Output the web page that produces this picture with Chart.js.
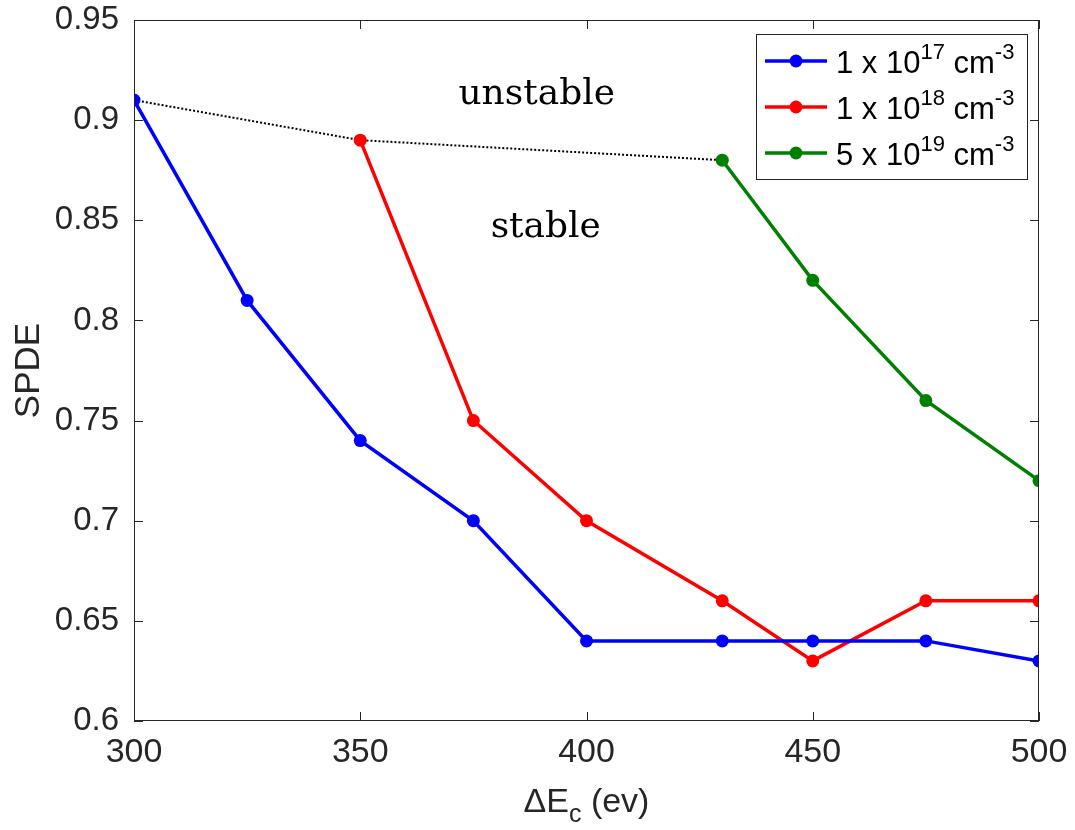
<!DOCTYPE html>
<html>
<head>
<meta charset="utf-8">
<script src="https://cdn.jsdelivr.net/npm/chart.js@4.4.0/dist/chart.umd.min.js"></script>
<style>
  html, body { margin: 0; padding: 0; background: #fff; }
  #wrap { width: 1075px; height: 830px; }
</style>
</head>
<body>
<div id="wrap"><canvas id="spdeChart" width="1075" height="830"></canvas></div>
<script>
// Data
const xTicks = [300, 350, 400, 450, 500];
const yTicks = [0.6, 0.65, 0.7, 0.75, 0.8, 0.85, 0.9, 0.95];

const xBlue = [300, 325, 350, 375, 400, 430, 450, 475, 500];
const yBlue = [0.91, 0.81, 0.74, 0.70, 0.64, 0.64, 0.64, 0.64, 0.63];

const xRed = [350, 375, 400, 430, 450, 475, 500];
const yRed = [0.89, 0.75, 0.70, 0.66, 0.63, 0.66, 0.66];

const xGreen = [430, 450, 475, 500];
const yGreen = [0.88, 0.82, 0.76, 0.72];

// stability boundary (dotted)
const xBound = [300, 350, 430];
const yBound = [0.91, 0.89, 0.88];

// legend labels: [base, exponent, unit, unit exponent]
const legendLabels = [
    ['1 x 10', '17', ' cm', '-3'],
    ['1 x 10', '18', ' cm', '-3'],
    ['5 x 10', '19', ' cm', '-3']
];

// region notes [text, x, y]
const notes = [
    ['unstable', 389, 0.9125],
    ['stable', 391, 0.8465]
];

function pts(xs, ys) {
    return xs.map((x, i) => ({ x: x, y: ys[i] }));
}

const axisColor = '#262626';
const sans = '"Liberation Sans", Arial, sans-serif';

function series(label, xs, ys, color) {
    return {
        label: label,
        data: pts(xs, ys),
        borderColor: color,
        backgroundColor: color,
        borderWidth: 3.5,
        pointRadius: 6.5,
        pointHoverRadius: 6.5,
        pointBorderWidth: 0,
        tension: 0
    };
}

// box, inward ticks, legend, axis titles, notes
const decorPlugin = {
    id: 'decor',
    afterDraw(chart) {
        const ctx = chart.ctx;
        const a = chart.chartArea;
        const xs = chart.scales.x, ys = chart.scales.y;
        ctx.save();

        // axes box
        ctx.strokeStyle = axisColor;
        ctx.lineWidth = 1;
        ctx.strokeRect(a.left + 0.5, a.top + 0.5, a.right - a.left - 1, a.bottom - a.top - 1);

        // ticks pointing inward on all sides
        const tl = 9;
        ctx.beginPath();
        xTicks.forEach(v => {
            const px = Math.round(xs.getPixelForValue(v)) + 0.5;
            ctx.moveTo(px, a.bottom); ctx.lineTo(px, a.bottom - tl);
            ctx.moveTo(px, a.top); ctx.lineTo(px, a.top + tl);
        });
        yTicks.forEach(v => {
            const py = Math.round(ys.getPixelForValue(v)) + 0.5;
            ctx.moveTo(a.left, py); ctx.lineTo(a.left + tl, py);
            ctx.moveTo(a.right, py); ctx.lineTo(a.right - tl, py);
        });
        ctx.stroke();

        // region notes
        ctx.fillStyle = '#000';
        ctx.font = '36px "DejaVu Serif", "Liberation Serif", serif';
        ctx.textAlign = 'center';
        ctx.textBaseline = 'middle';
        notes.forEach(n => {
            ctx.fillText(n[0], xs.getPixelForValue(n[1]), ys.getPixelForValue(n[2]));
        });

        // y title
        ctx.fillStyle = axisColor;
        ctx.font = '35px ' + sans;
        ctx.save();
        ctx.translate(29, (a.top + a.bottom) / 2);
        ctx.rotate(-Math.PI / 2);
        ctx.textAlign = 'center';
        ctx.textBaseline = 'middle';
        ctx.fillText('SPDE', 0, 0);
        ctx.restore();

        // x title with subscript
        ctx.textAlign = 'left';
        ctx.textBaseline = 'alphabetic';
        const big = '34px ' + sans, small = '25px ' + sans;
        ctx.font = big;
        const w1 = ctx.measureText('\u0394E').width;
        const w3 = ctx.measureText(' (ev)').width;
        ctx.font = small;
        const w2 = ctx.measureText('c').width;
        let tx = (a.left + a.right) / 2 - (w1 + w2 + w3) / 2;
        const base = 812;
        ctx.font = big; ctx.fillText('\u0394E', tx, base); tx += w1;
        ctx.font = small; ctx.fillText('c', tx, base + 10); tx += w2;
        ctx.font = big; ctx.fillText(' (ev)', tx, base);

        // legend
        const lw = 271, lh = 145;
        const lx = a.right - 12 - lw, ly = a.top + 14;
        ctx.fillStyle = '#fff';
        ctx.fillRect(lx, ly, lw, lh);
        ctx.strokeStyle = axisColor;
        ctx.lineWidth = 1;
        ctx.strokeRect(lx + 0.5, ly + 0.5, lw, lh);
        const lbig = '31px ' + sans, supFont = '22px ' + sans;
        legendLabels.forEach((parts, i) => {
            const ds = chart.data.datasets[i];
            const ry = ly + 27 + i * 46;
            ctx.strokeStyle = ds.borderColor;
            ctx.lineWidth = 3.5;
            ctx.beginPath();
            ctx.moveTo(lx + 9, ry); ctx.lineTo(lx + 71, ry);
            ctx.stroke();
            ctx.fillStyle = ds.borderColor;
            ctx.beginPath();
            ctx.arc(lx + 40, ry, 6.5, 0, Math.PI * 2);
            ctx.fill();

            ctx.fillStyle = '#000';
            let px = lx + 80;
            const by = ry + 12;
            [[parts[0], lbig, 0], [parts[1], supFont, -14], [parts[2], lbig, 0], [parts[3], supFont, -14]].forEach(p => {
                ctx.font = p[1];
                ctx.fillText(p[0], px, by + p[2]);
                px += ctx.measureText(p[0]).width;
            });
        });

        ctx.restore();
    }
};

const ctx = document.getElementById('spdeChart').getContext('2d');
new Chart(ctx, {
    type: 'line',
    data: {
        datasets: [
            series('1 x 10^17 cm^-3', xBlue, yBlue, '#0000ff'),
            series('1 x 10^18 cm^-3', xRed, yRed, '#ff0000'),
            series('5 x 10^19 cm^-3', xGreen, yGreen, '#008000'),
            {
                label: 'boundary',
                data: pts(xBound, yBound),
                borderColor: '#000',
                borderWidth: 2,
                borderDash: [2, 2],
                pointRadius: 0,
                tension: 0
            }
        ]
    },
    options: {
        responsive: false,
        animation: false,
        layout: { padding: { left: 0, top: 20, right: 36, bottom: 0 } },
        plugins: {
            legend: { display: false },
            tooltip: { enabled: false }
        },
        scales: {
            x: {
                type: 'linear',
                min: 300,
                max: 500,
                afterBuildTicks: s => { s.ticks = xTicks.map(v => ({ value: v })); },
                afterFit: s => { s.height = 109; s.paddingLeft = 0; s.paddingRight = 0; },
                grid: { display: false, drawTicks: false },
                border: { display: false },
                ticks: {
                    color: axisColor,
                    font: { size: 34, family: sans },
                    padding: 11,
                    maxRotation: 0
                }
            },
            y: {
                type: 'linear',
                min: 0.6,
                max: 0.95,
                afterBuildTicks: s => { s.ticks = yTicks.map(v => ({ value: v })); },
                afterFit: s => { s.width = 134; s.paddingTop = 0; s.paddingBottom = 0; },
                grid: { display: false, drawTicks: false },
                border: { display: false },
                ticks: {
                    color: axisColor,
                    font: { size: 33, family: sans },
                    padding: 15,
                    callback: v => String(v)
                }
            }
        }
    },
    plugins: [decorPlugin]
});
</script>
</body>
</html>
